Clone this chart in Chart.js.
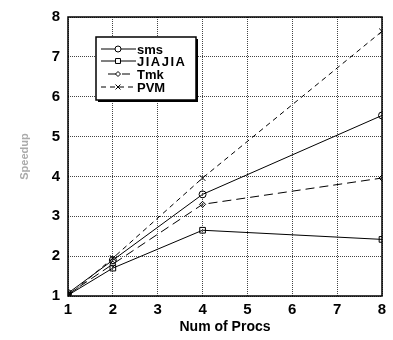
<!DOCTYPE html>
<html>
<head>
<meta charset="utf-8">
<script src="https://cdn.jsdelivr.net/npm/chart.js@4"></script>
<style>
    * { margin: 0; padding: 0; }
    body { background: #fff; width: 393px; height: 340px; overflow: hidden; }
    #wrap { position: relative; width: 393px; height: 340px; }
</style>
</head>
<body>
<div id="wrap"><canvas id="speedChart"></canvas></div>
<script>
// data
const procs = [1, 2, 4, 8];
const smsSpeedup = [1.07, 1.9, 3.55, 5.53];
const jiajiaSpeedup = [1.02, 1.7, 2.65, 2.42];
const tmkSpeedup = [1.04, 1.8, 3.3, 3.96];
const pvmSpeedup = [1.0, 1.95, 3.96, 7.64];
const seriesNames = ["sms", "JIAJIA", "Tmk", "PVM"];
const xTicks = [1, 2, 3, 4, 5, 6, 7, 8];
const yTicks = [1, 2, 3, 4, 5, 6, 7, 8];

const FONT = "'Liberation Sans', Arial, sans-serif";

function pts(ys) {
    return procs.map((p, i) => ({ x: p, y: ys[i] }));
}

// frame around the plot
const framePlugin = {
    id: "frame",
    afterDatasetsDraw(chart) {
        const a = chart.chartArea;
        const ctx = chart.ctx;
        ctx.save();
        ctx.setLineDash([]);
        ctx.strokeStyle = "#000";
        ctx.lineWidth = 1.5;
        ctx.strokeRect(a.left, a.top, a.right - a.left, a.bottom - a.top);
        ctx.restore();
    }
};

// legend box drawn inside the plot
const legendPlugin = {
    id: "boxLegend",
    afterDraw(chart) {
        const ctx = chart.ctx;
        const bx = 96, by = 37, bw = 100, bh = 63;
        ctx.save();
        ctx.setLineDash([]);
        ctx.fillStyle = "#fff";
        ctx.fillRect(bx, by, bw, bh);
        ctx.fillStyle = "#000";
        ctx.fillRect(bx + 2, by + bh, bw, 2);
        ctx.fillRect(bx + bw, by + 2, 2, bh);
        ctx.strokeStyle = "#000";
        ctx.lineWidth = 1.5;
        ctx.strokeRect(bx, by, bw, bh);
        const rows = [49, 61, 74, 87];
        chart.data.datasets.forEach((ds, i) => {
            const y = rows[i];
            ctx.strokeStyle = "#000";
            ctx.lineWidth = 1;
            ctx.setLineDash(ds.borderDash || []);
            ctx.beginPath();
            ctx.moveTo(i == 2 ? 108 : 101, y);
            ctx.lineTo(i == 2 ? 130 : 136, y);
            ctx.stroke();
            ctx.setLineDash([]);
            ctx.fillStyle = "#fff";
            Chart.helpers.drawPoint(ctx, {
                pointStyle: ds.pointStyle,
                radius: ds.pointRadius - 0.5,
                rotation: 0,
                borderWidth: 1
            }, 118, y);
            ctx.fillStyle = "#000";
            ctx.font = "bold 13px " + FONT;
            ctx.textBaseline = "middle";
            let label = seriesNames[i];
            if (label == "JIAJIA") {
                // spaced out letters like the original
                let x = 137;
                for (const ch of label) {
                    ctx.fillText(ch, x, y + 1);
                    x += ctx.measureText(ch).width + 1.5;
                }
            } else {
                ctx.fillText(label, 137, y + 1);
            }
        });
        ctx.restore();
    }
};

function dataset(label, ys, style, radius, dash) {
    return {
        label: label,
        data: pts(ys),
        borderColor: "#000",
        backgroundColor: "#fff",
        borderWidth: 1,
        borderDash: dash,
        pointStyle: style,
        pointRadius: radius,
        pointBorderColor: "#000",
        pointBackgroundColor: "rgba(0,0,0,0)",
        pointBorderWidth: 1,
        tension: 0
    };
}

new Chart(document.getElementById("speedChart"), {
    type: "line",
    data: {
        datasets: [
            dataset("sms", smsSpeedup, "circle", 3.5, []),
            dataset("JIAJIA", jiajiaSpeedup, "rect", 4, []),
            dataset("Tmk", tmkSpeedup, "rectRot", 3, [9, 5]),
            dataset("PVM", pvmSpeedup, "crossRot", 4, [5, 4])
        ]
    },
    options: {
        responsive: true,
        maintainAspectRatio: false,
        animation: false,
        layout: { padding: { top: 11, right: 11, left: 0, bottom: 0 } },
        plugins: {
            legend: { display: false },
            tooltip: { enabled: false }
        },
        scales: {
            x: {
                type: "linear",
                min: 1,
                max: 8,
                afterBuildTicks: s => { s.ticks = xTicks.map(v => ({ value: v })); },
                afterFit: s => { s.height = 44; },
                grid: {
                    color: "#444",
                    lineWidth: 1,
                    drawTicks: false
                },
                border: { display: false, dash: [1, 1] },
                ticks: {
                    color: "#000",
                    padding: 5,
                    font: { family: FONT, size: 15, weight: "bold" }
                },
                title: {
                    display: true,
                    text: "Num of Procs",
                    color: "#000",
                    font: { family: FONT, size: 14, weight: "bold" },
                    padding: { top: 0, bottom: 4 }
                }
            },
            y: {
                min: 1,
                max: 8,
                afterBuildTicks: s => { s.ticks = yTicks.map(v => ({ value: v })); },
                afterFit: s => { s.width = 68; },
                grid: {
                    color: "#444",
                    lineWidth: 1,
                    drawTicks: false
                },
                border: { display: false, dash: [1, 1] },
                ticks: {
                    color: "#000",
                    padding: 8,
                    font: { family: FONT, size: 15, weight: "bold" }
                },
                title: {
                    display: true,
                    text: "Speedup",
                    color: "#aaa",
                    font: { family: FONT, size: 11, weight: "bold" },
                    padding: { top: 18, bottom: 0 }
                }
            }
        }
    },
    plugins: [framePlugin, legendPlugin]
});
</script>
</body>
</html>
